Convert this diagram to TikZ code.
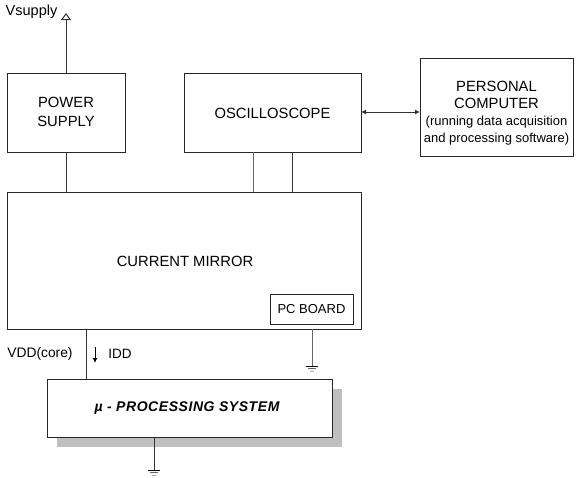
\documentclass[tikz,border=0pt]{standalone}
\usepackage{fontspec}
\setmainfont{Liberation Sans}
\usetikzlibrary{arrows.meta,calc}
\tikzset{
  blk/.style={draw=black!85, line width=1pt, fill=white, inner sep=0pt},
  wire/.style={draw=black!80, line width=1pt},
  bigtxt/.style={font=\fontsize{14.8}{19}\selectfont, align=center},
  smalltxt/.style={font=\fontsize{13}{15}\selectfont, align=center},
  gnd/.style={line width=1pt},
}
\newcommand{\smallpc}{\fontsize{13}{17}\selectfont}
\begin{document}
\begin{tikzpicture}[x=1pt, y=-1pt]
\useasboundingbox (0,0) rectangle (581,477);

% main blocks (corners in pixel coordinates)
\draw[blk] (7,73) rectangle (125,152);
\node (ps) at (66,111.5) [bigtxt] {POWER\\SUPPLY};
\coordinate (psT) at (66,73);
\coordinate (psB) at (66,152);

\draw[blk] (184,73) rectangle (361,152);
\node (osc) at (272.5,113) [bigtxt] {OSCILLOSCOPE};
\coordinate (oscR) at (361,112);
\coordinate (oscB1) at (253,152);
\coordinate (oscB2) at (292,152);

\draw[blk] (420,58) rectangle (573,156);
\node (pc) at (496.5,113.5) [font=\fontsize{14.8}{17}\selectfont, align=center] {PERSONAL\\COMPUTER\\
  \smallpc (running data acquisition\\
  \smallpc and processing software)};
\coordinate (pcL) at (420,112);

\draw[blk] (7,192) rectangle (361,329);
\node (cm) at (185,261) [bigtxt] {CURRENT MIRROR};
\coordinate (cmT1) at (66,192);
\coordinate (cmT2) at (253,192);
\coordinate (cmT3) at (292,192);
\coordinate (cmB1) at (86,329);
\coordinate (cmB2) at (312,329);

\draw[blk] (270,294) rectangle (353,324);
\node (pcb) at (311.5,309.5) [smalltxt] {PC BOARD};

% processing system with drop shadow
\fill[black!25] (57,389) rectangle (342,447);
\draw[blk] (47,379) rectangle (332,437);
\node (mu) at (187,408) [font=\fontsize{14}{16}\selectfont\bfseries\itshape] {\addfontfeature{LetterSpace=4}µ - PROCESSING SYSTEM};
\coordinate (muT) at (86,379);
\coordinate (muB) at (154,437);

% supply rail
\coordinate (vs) at (66,13);
\draw[wire, -{Triangle[open, length=7pt, width=10pt]}] (psT) -- (vs);
\node (vslbl) at (31.5,12) [font=\fontsize{14.5}{16}\selectfont] {Vsupply};

% connections
\draw[wire] (psB) -- (cmT1);
\draw[wire, draw=black!60] (oscB1) -- (cmT2);
\draw[wire] (oscB2) -- (cmT3);
\draw[wire, {Latex[length=5pt, width=5pt]}-{Latex[length=5pt, width=5pt]}] (oscR) -- (pcL);
\draw[wire] (cmB1) -- (muT);

% current label
\coordinate (iA) at (95,347);
\coordinate (iB) at (95,363);
\draw[line width=1pt, -{Latex[length=5pt, width=5pt]}] (iA) -- (iB);
\node (idd) at (120,354) [font=\fontsize{13.5}{15}\selectfont] {IDD};
\node (vdd) at (40,354) [font=\fontsize{13.8}{15}\selectfont] {VDD(core)};

% grounds
\coordinate (g1) at (312,366);
\draw[wire, draw=black!60] (cmB2) -- (g1);
\draw[gnd] ($(g1)+(-6,0)$) -- ($(g1)+(6,0)$);
\draw[gnd, black!60] ($(g1)+(-4,2.5)$) -- ($(g1)+(4,2.5)$);
\draw[gnd, black!35] ($(g1)+(-2,5)$) -- ($(g1)+(2,5)$);

\coordinate (g2) at (154,470);
\draw[wire] (muB) -- (g2);
\draw[gnd] ($(g2)+(-6,0)$) -- ($(g2)+(6,0)$);
\draw[gnd, black!60] ($(g2)+(-4,2.5)$) -- ($(g2)+(4,2.5)$);
\draw[gnd, black!35] ($(g2)+(-2,5)$) -- ($(g2)+(2,5)$);
\end{tikzpicture}
\end{document}
